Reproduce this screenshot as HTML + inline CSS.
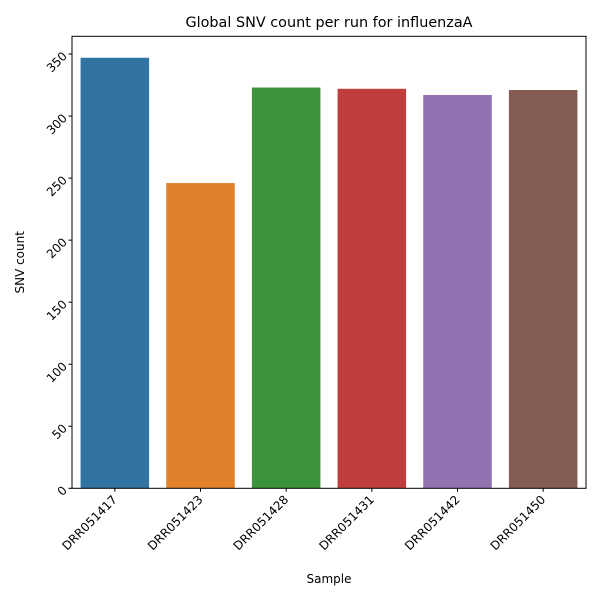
<!DOCTYPE html>
<html><head><meta charset="utf-8"><style>
body{margin:0;background:#fff;font-family:"Liberation Sans","DejaVu Sans",sans-serif}
svg text{font-family:"DejaVu Sans","Liberation Sans",sans-serif}
</style></head><body>
<svg width="600" height="600" xmlns="http://www.w3.org/2000/svg">
<rect width="600" height="600" fill="#fff"/>
<g id="g"></g>
</svg>
<script>
const categories=["DRR051417","DRR051423","DRR051428","DRR051431","DRR051442","DRR051450"];
const values=[347,246,323,322,317,321];
const colors=["#3274a1","#e1812c","#3a923a","#c03d3e","#9372b2","#845b53"];
const yTicks=[0,50,100,150,200,250,300,350];
const L=72,R=586,T=36.3,B=488.3,yMax=364.3;
const y=v=>B-(v/yMax)*(B-T);
const step=(R-L)/categories.length;
const x=i=>L+step*(i+0.5);
const g=document.getElementById('g');
const NS="http://www.w3.org/2000/svg";
function mk(t,a,txt){const e=document.createElementNS(NS,t);for(const k in a)e.setAttribute(k,a[k]);if(txt!==undefined)e.textContent=txt;g.appendChild(e);return e;}
values.forEach((v,i)=>{
 const r=mk('rect',{x:x(i)-step*0.4,y:y(v),width:step*0.8,height:B-y(v),fill:colors[i]});
 
 
});
const ax=mk('rect',{x:L,y:T,width:R-L,height:B-T,fill:'none',stroke:'#000','stroke-width':1});


yTicks.forEach(t=>{
 const yy=y(t);
 mk('line',{x1:L-3.5,x2:L,y1:yy,y2:yy,stroke:'#000'});
 const tx=mk('text',{x:L-7,y:yy+4,'font-size':12,'text-anchor':'end',transform:`rotate(-45 ${L-7} ${yy})`},t);
 
 
});
categories.forEach((c,i)=>{
 const xx=x(i);
 mk('line',{x1:xx,x2:xx,y1:B,y2:B+3.5,stroke:'#000'});
 const tx=mk('text',{x:xx+3,y:B+12,'font-size':12,'text-anchor':'end',transform:`rotate(-45 ${xx+3} ${B+12})`},c);
 
 
});
let t=mk('text',{x:(L+R)/2,y:27,'font-size':14.4,'text-anchor':'middle'},'Global SNV count per run for influenzaA');


t=mk('text',{x:(L+R)/2,y:583,'font-size':12,'text-anchor':'middle'},'Sample');


t=mk('text',{x:24,y:(T+B)/2,'font-size':12,'text-anchor':'middle',transform:`rotate(-90 24 ${(T+B)/2})`},'SNV count');


</script>
</body></html>
